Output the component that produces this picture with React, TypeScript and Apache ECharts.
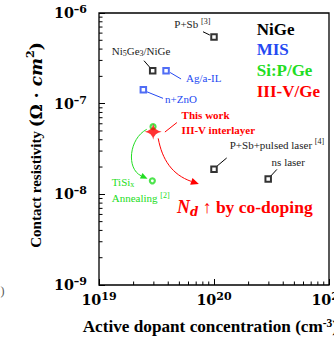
import React, { useEffect, useRef } from 'react';
import * as echarts from 'echarts';

const W = 334;
const H = 338;

// ---------- data ----------
const nigeNames = ['P+Sb', 'Ni5Ge3/NiGe', 'P+Sb+pulsed laser', 'ns laser'];
const nigeX = [1.0e20, 2.93e19, 1.0e20, 2.96e20];
const nigeY = [5.43e-7, 2.31e-7, 1.89e-8, 1.48e-8];

const misNames = ['Ag/a-IL', 'n+ZnO'];
const misX = [3.83e19, 2.43e19];
const misY = [2.31e-7, 1.42e-7];

const sipNames = ['Si:P/Ge', 'TiSix annealing'];
const sipX = [2.95e19, 2.91e19];
const sipY = [5.57e-8, 1.41e-8];

const iiivNames = ['This work'];
const iiivX = [2.96e19];
const iiivY = [4.9e-8];

const legendLabels = ['NiGe', 'MIS', 'Si:P/Ge', 'III-V/Ge'];

const xMin = 1e19;
const xMax = 1e21;
const yMin = 1e-9;
const yMax = 1e-6;
const xTickValues = [1e19, 1e20, 1e21];
const xTickLabels = ['19', '20', '21'];
const yTickValues = [1e-9, 1e-8, 1e-7, 1e-6];
const yTickLabels = ['–9', '–8', '–7', '–6'];
const xMinorTicks = [2e19, 3e19, 4e19, 5e19, 6e19, 7e19, 8e19, 9e19, 2e20, 3e20, 4e20, 5e20, 6e20, 7e20, 8e20, 9e20];
const yMinorTicks = [
  2e-9, 3e-9, 4e-9, 5e-9, 6e-9, 7e-9, 8e-9, 9e-9,
  2e-8, 3e-8, 4e-8, 5e-8, 6e-8, 7e-8, 8e-8, 9e-8,
  2e-7, 3e-7, 4e-7, 5e-7, 6e-7, 7e-7, 8e-7, 9e-7,
];

// ---------- styles ----------
const BLACK = '#000000';
const DARK = '#222222';
const BLUE = '#2449f2';
const GREEN = '#22dd22';
const RED = '#ff0000';
const SERIF = 'Liberation Serif';
const MATH = 'DejaVu Serif';

const tickRich = {
  b: { fontFamily: MATH, fontWeight: 'bold', fontSize: 14.3, lineHeight: 18, verticalAlign: 'middle', color: BLACK },
  s: { fontFamily: MATH, fontWeight: 'bold', fontSize: 11, lineHeight: 10, verticalAlign: 'top', color: BLACK },
};

function nearestLabel(values: number[], labels: string[], v: number) {
  let best = 0;
  for (let i = 0; i < values.length; i++) {
    if (Math.abs(Math.log10(values[i]) - Math.log10(v)) < Math.abs(Math.log10(values[best]) - Math.log10(v))) best = i;
  }
  return labels[best];
}

const smallRich = (color: string) => ({
  a: { fontFamily: SERIF, fontSize: 11, lineHeight: 14, verticalAlign: 'middle', fill: color },
  s: { fontFamily: SERIF, fontSize: 8, lineHeight: 8, verticalAlign: 'top', fill: color },
  u: { fontFamily: SERIF, fontSize: 8, lineHeight: 8, verticalAlign: 'bottom', fill: color },
  bd: { fontFamily: SERIF, fontWeight: 'bold', fontSize: 11, lineHeight: 14, verticalAlign: 'middle', fill: color },
});

// annotation layout (pixel offsets from each data point)
type Ann = { text: string; color: string; dx: number; dy: number; line?: number[]; lineColor?: string };
const annLayout: Record<string, Ann[]> = {
  'P+Sb': [{ text: '{a|P+Sb }{s|[3]}', color: DARK, dx: -39.7, dy: -12.7, line: [-11, -5.3, -4.2, -2], lineColor: BLACK }],
  'Ni5Ge3/NiGe': [{ text: '{a|Ni}{u|5}{a|Ge}{u|3}{a|/NiGe}', color: DARK, dx: -41, dy: -19.7, line: [-8.7, -10, -3.2, -3.7], lineColor: BLACK }],
  'Ag/a-IL': [{ text: '{a|Ag/a-IL}', color: BLUE, dx: 20, dy: 7, line: [4, 1.8, 15, 8.3], lineColor: BLUE }],
  'n+ZnO': [{ text: '{a|n+ZnO}', color: BLUE, dx: 21.7, dy: 8.7, line: [3.7, 2, 19.7, 8.5], lineColor: BLUE }],
  'P+Sb+pulsed laser': [{ text: '{a|P+Sb+pulsed laser }{s|[4]}', color: DARK, dx: 15.7, dy: -24.3, line: [3.2, -3.3, 12.7, -11.3], lineColor: BLACK }],
  'ns laser': [{ text: '{a|ns laser}', color: DARK, dx: 3.4, dy: -17.3, line: [2.7, -3, 8.7, -9.5], lineColor: BLACK }],
  'TiSix annealing': [
    { text: '{a|TiSi}{u|x}', color: GREEN, dx: -40.6, dy: 1 },
    { text: '{a|Annealing }{s|[2]}', color: GREEN, dx: -40.6, dy: 17.6 },
  ],
  'This work': [
    { text: '{bd|This work}', color: RED, dx: 28.4, dy: -16.7, line: [11.7, 0.3, 23.7, -9.2], lineColor: RED },
    { text: '{bd|III-V interlayer}', color: RED, dx: 28.4, dy: -1.7 },
  ],
};

export default function App() {
  const ref = useRef<HTMLDivElement>(null);

  useEffect(() => {
    if (!ref.current) return;
    const chart = echarts.init(ref.current, null, { renderer: 'svg', width: W, height: H });

    const pts = (xs: number[], ys: number[]) => xs.map((x, i) => [x, ys[i]]);

    const option: any = {
      animation: false,
      backgroundColor: '#ffffff',
      grid: {
        left: 99, right: 5, top: 13, bottom: 53,
        containLabel: false,
        outerBoundsMode: 'none',
        show: true, borderColor: BLACK, borderWidth: 1.3, backgroundColor: 'transparent',
      },
      xAxis: {
        type: 'log',
        logBase: 10,
        min: xMin,
        max: xMax,
        axisLine: { show: false },
        axisTick: { show: true, inside: true, length: 6, lineStyle: { color: BLACK, width: 1 } },
        splitLine: { show: false },
        axisLabel: {
          margin: 6,
          formatter: (v: number) => '{b|10}{s|' + nearestLabel(xTickValues, xTickLabels, v) + '}',
          rich: tickRich,
        },
      },
      yAxis: {
        type: 'log',
        logBase: 10,
        min: yMin,
        max: yMax,
        axisLine: { show: false },
        axisTick: { show: true, inside: true, length: 6, lineStyle: { color: BLACK, width: 1 } },
        splitLine: { show: false },
        axisLabel: {
          margin: 12,
          formatter: (v: number) => '{b|10}{s|' + nearestLabel(yTickValues, yTickLabels, v) + '}',
          rich: tickRich,
        },
      },
      series: [
        {
          type: 'custom',
          name: 'xMinor',
          silent: true,
          data: xMinorTicks.map((v) => [v, yMin]),
          renderItem: (_p: any, api: any) => {
            const p = api.coord([api.value(0), api.value(1)]);
            return { type: 'line', shape: { x1: p[0], y1: p[1], x2: p[0], y2: p[1] - 3.5 }, style: { stroke: BLACK, lineWidth: 1 } };
          },
          z: 1,
        },
        {
          type: 'custom',
          name: 'yMinor',
          silent: true,
          data: yMinorTicks.map((v) => [xMin, v]),
          renderItem: (_p: any, api: any) => {
            const p = api.coord([api.value(0), api.value(1)]);
            return { type: 'line', shape: { x1: p[0], y1: p[1], x2: p[0] + 3.5, y2: p[1] }, style: { stroke: BLACK, lineWidth: 1 } };
          },
          z: 1,
        },
        {
          type: 'scatter',
          name: legendLabels[0],
          data: pts(nigeX, nigeY),
          symbol: 'rect',
          symbolSize: 5.5,
          itemStyle: { color: '#ffffff', borderColor: BLACK, borderWidth: 2 },
          z: 3,
        },
        {
          type: 'scatter',
          name: legendLabels[1],
          data: pts(misX, misY),
          symbol: 'rect',
          symbolSize: 5.5,
          itemStyle: { color: '#ffffff', borderColor: BLUE, borderWidth: 2 },
          z: 3,
        },
        {
          type: 'scatter',
          name: legendLabels[2],
          data: pts(sipX, sipY),
          symbol: 'circle',
          symbolSize: 5,
          itemStyle: { color: '#ffffff', borderColor: GREEN, borderWidth: 2.2 },
          z: 3,
        },
        {
          type: 'scatter',
          name: legendLabels[3],
          data: pts(iiivX, iiivY),
          symbol: 'path://M10,0 Q11.3,8.7 20,10 Q11.3,11.3 10,20 Q8.7,11.3 0,10 Q8.7,8.7 10,0 Z',
          symbolSize: [17, 16],
          itemStyle: { color: RED },
          z: 5,
        },
      ],
    };

    chart.setOption(option);

    const px = (x: number, y: number) => chart.convertToPixel({ xAxisIndex: 0, yAxisIndex: 0 }, [x, y]) as number[];

    const els: any[] = [];

    const addAnn = (names: string[], xs: number[], ys: number[]) => {
      names.forEach((n, i) => {
        const p = px(xs[i], ys[i]);
        (annLayout[n] || []).forEach((a) => {
          els.push({
            type: 'text',
            x: p[0] + a.dx,
            y: p[1] + a.dy,
            z: 10,
            style: { text: a.text, rich: smallRich(a.color), fill: a.color, align: 'left', verticalAlign: 'middle', textAlign: 'left', textVerticalAlign: 'middle' },
          });
          if (a.line) {
            els.push({
              type: 'line',
              z: 10,
              shape: { x1: p[0] + a.line[0], y1: p[1] + a.line[1], x2: p[0] + a.line[2], y2: p[1] + a.line[3] },
              style: { stroke: a.lineColor, lineWidth: 1 },
            });
          }
        });
      });
    };
    addAnn(nigeNames, nigeX, nigeY);
    addAnn(misNames, misX, misY);
    addAnn(sipNames, sipX, sipY);
    addAnn(iiivNames, iiivX, iiivY);

    // curved arrows
    const arrow = (s: number[], c1: number[], c2: number[], t: number[], color: string, len: number, wid: number) => {
      const dx = t[0] - c2[0];
      const dy = t[1] - c2[1];
      const d = Math.sqrt(dx * dx + dy * dy) || 1;
      const ux = dx / d;
      const uy = dy / d;
      const bx = t[0] - ux * len;
      const by = t[1] - uy * len;
      els.push({
        type: 'bezierCurve',
        z: 9,
        shape: { x1: s[0], y1: s[1], cpx1: c1[0], cpy1: c1[1], cpx2: c2[0], cpy2: c2[1], x2: bx, y2: by },
        style: { stroke: color, lineWidth: 1, fill: 'none' },
      });
      els.push({
        type: 'polygon',
        z: 9,
        shape: { points: [[t[0], t[1]], [bx - uy * wid / 2, by + ux * wid / 2], [bx + uy * wid / 2, by - ux * wid / 2]] },
        style: { fill: color },
      });
    };
    const pSi = px(sipX[0], sipY[0]);
    const pTi = px(sipX[1], sipY[1]);
    const pStar = px(iiivX[0], iiivY[0]);
    arrow(
      [pSi[0] - 6.3, pSi[1] + 2.6],
      [pSi[0] - 24, pSi[1] + 12],
      [pSi[0] - 27, pSi[1] + 42],
      [pTi[0] - 4.8, pTi[1] - 2],
      GREEN, 7, 6
    );
    arrow(
      [pStar[0] + 5, pStar[1] + 6.6],
      [pStar[0] + 9, pStar[1] + 28],
      [pStar[0] + 19, pStar[1] + 43],
      [pStar[0] + 45.7, pStar[1] + 52.3],
      RED, 8, 7
    );

    // legend text (top right)
    const legendColors = [BLACK, BLUE, GREEN, RED];
    const legendY = [29.3, 49.6, 70.4, 91];
    legendLabels.forEach((t, i) => {
      els.push({
        type: 'text',
        x: 256.7,
        y: legendY[i],
        z: 10,
        style: { text: t, fill: legendColors[i], fontFamily: SERIF, fontWeight: 'bold', fontSize: 17, align: 'left', verticalAlign: 'middle', textAlign: 'left', textVerticalAlign: 'middle' },
      });
    });

    // N_d ↑ by co-doping
    els.push({
      type: 'text',
      x: 177,
      y: 207,
      z: 10,
      style: {
        text: '{n|N}{d|d}{a| ↑ by co-doping}',
        align: 'left',
        verticalAlign: 'middle',
        textAlign: 'left',
        textVerticalAlign: 'middle',
        rich: {
          n: { fontFamily: SERIF, fontWeight: 'bold', fontStyle: 'italic', fontSize: 18, lineHeight: 22, verticalAlign: 'middle', fill: RED },
          d: { fontFamily: MATH, fontWeight: 'bold', fontStyle: 'italic', fontSize: 12, lineHeight: 12, verticalAlign: 'bottom', fill: RED },
          a: { fontFamily: SERIF, fontWeight: 'bold', fontSize: 17.5, lineHeight: 22, verticalAlign: 'middle', fill: RED },
        },
      },
    });

    // axis titles
    els.push({
      type: 'text',
      x: 36,
      y: 145,
      rotation: Math.PI / 2,
      z: 10,
      style: {
        text: '{a|Contact resistivity }{m|(Ω · }{i|cm}{s|2}{m|)}',
        align: 'center',
        verticalAlign: 'middle',
        textAlign: 'center',
        textVerticalAlign: 'middle',
        rich: {
          a: { fontFamily: SERIF, fontWeight: 'bold', fontSize: 15, lineHeight: 22, verticalAlign: 'middle', fill: BLACK },
          m: { fontFamily: MATH, fontWeight: 'bold', fontSize: 17, lineHeight: 22, verticalAlign: 'middle', fill: BLACK },
          i: { fontFamily: MATH, fontWeight: 'bold', fontStyle: 'italic', fontSize: 17, lineHeight: 22, verticalAlign: 'middle', fill: BLACK },
          s: { fontFamily: MATH, fontWeight: 'bold', fontSize: 11, lineHeight: 11, verticalAlign: 'top', fill: BLACK },
        },
      },
    });
    els.push({
      type: 'text',
      x: 82.7,
      y: 326.5,
      z: 10,
      style: {
        text: '{a|Active dopant concentration (cm}{s|-3}{a|)}',
        align: 'left',
        verticalAlign: 'middle',
        textAlign: 'left',
        textVerticalAlign: 'middle',
        rich: {
          a: { fontFamily: SERIF, fontWeight: 'bold', fontSize: 17.2, lineHeight: 20, verticalAlign: 'middle', fill: BLACK },
          s: { fontFamily: SERIF, fontWeight: 'bold', fontSize: 11.5, lineHeight: 10, verticalAlign: 'top', fill: BLACK },
        },
      },
    });
    // stray neighbouring-panel glyph at the left edge
    els.push({
      type: 'text',
      x: 4.5,
      y: 291,
      z: 10,
      style: { text: ')', fill: '#555555', fontFamily: SERIF, fontSize: 12, align: 'right', verticalAlign: 'middle', textAlign: 'right', textVerticalAlign: 'middle' },
    });

    chart.setOption({ graphic: els });

    return () => {
      chart.dispose();
    };
  }, []);

  return <div ref={ref} style={{ position: 'fixed', left: 0, top: 0, width: W, height: H, background: '#ffffff' }} />;
}
